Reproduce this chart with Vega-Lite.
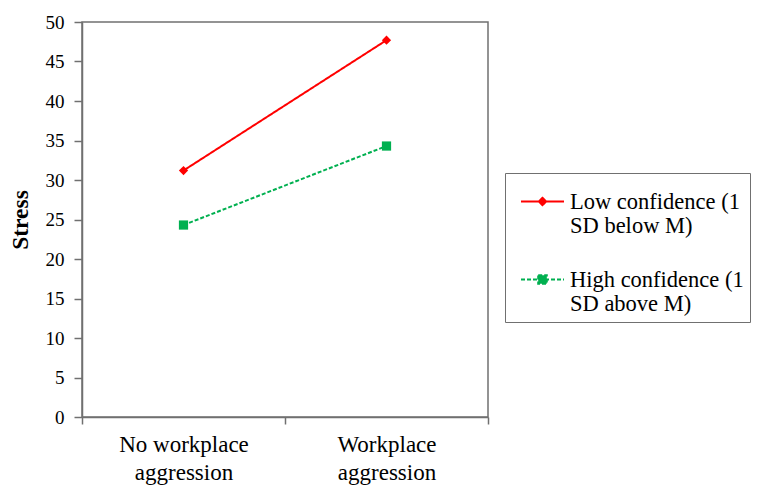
{
  "$schema": "https://vega.github.io/schema/vega-lite/v6.json",
  "autosize": {"type": "none"},
  "padding": {"left": 82, "top": 22, "right": 271, "bottom": 70},
  "width": 406,
  "height": 395,
  "background": "white",
  "config": {
    "font": "Times New Roman",
    "view": {"stroke": "#707070", "strokeWidth": 1.5}
  },
  "data": {
    "values": [
      {"agg": "No workplace aggression", "group": "Low confidence (1 SD below M)", "stress": 31.2},
      {"agg": "Workplace aggression", "group": "Low confidence (1 SD below M)", "stress": 47.7},
      {"agg": "No workplace aggression", "group": "High confidence (1 SD above M)", "stress": 24.3},
      {"agg": "Workplace aggression", "group": "High confidence (1 SD above M)", "stress": 34.3}
    ]
  },
  "encoding": {
    "x": {
      "field": "agg",
      "type": "nominal",
      "sort": ["No workplace aggression", "Workplace aggression"],
      "scale": {"type": "band", "paddingInner": 0, "paddingOuter": 0},
      "axis": {
        "title": null,
        "tickBand": "extent",
        "labelAngle": 0,
        "labelExpr": "datum.value == 'No workplace aggression' ? ['No workplace', 'aggression'] : datum.value == 'Workplace aggression' ? ['Workplace', 'aggression'] : ''",
        "labelFont": "Times New Roman",
        "labelFontSize": 23,
        "labelLineHeight": 28,
        "labelColor": "black",
        "labelPadding": 9,
        "tickSize": 7,
        "tickColor": "#707070",
        "domainColor": "#707070",
        "domainWidth": 1.5,
        "tickWidth": 1.5,
        "grid": false
      }
    },
    "y": {
      "field": "stress",
      "type": "quantitative",
      "scale": {"domain": [0, 50], "nice": false},
      "axis": {
        "title": "Stress",
        "titleFont": "Times New Roman",
        "titleFontSize": 23.5,
        "titleFontWeight": "bold",
        "titleColor": "black",
        "titlePadding": 13,
        "values": [0, 5, 10, 15, 20, 25, 30, 35, 40, 45, 50],
        "labelFont": "Times New Roman",
        "labelFontSize": 19,
        "labelColor": "black",
        "labelPadding": 10,
        "tickSize": 8,
        "tickColor": "#707070",
        "domainColor": "#707070",
        "domainWidth": 1.5,
        "tickWidth": 1.5,
        "grid": false
      }
    }
  },
  "layer": [
    {
      "mark": {"type": "line", "strokeWidth": 2},
      "encoding": {
        "color": {
          "field": "group",
          "type": "nominal",
          "scale": {"domain": ["Low confidence (1 SD below M)", "High confidence (1 SD above M)"], "range": ["#ff0000", "#00b050"]},
          "legend": {
            "title": null,
            "orient": "none",
            "legendX": 423,
            "legendY": 151,
            "padding": 6,
            "symbolOffset": 9,
            "strokeColor": "#707070",
            "labelFont": "Times New Roman",
            "labelFontSize": 22.5,
            "labelLineHeight": 29,
            "labelColor": "black",
            "labelLimit": 400,
            "labelOffset": 5,
            "labelExpr": "datum.value == 'Low confidence (1 SD below M)' ? ['Low confidence (1', 'SD below M)'] : ['High confidence (1', 'SD above M)']",
            "symbolType": "M-1,0H1M0,-0.17L0.17,0L0,0.17L-0.17,0Z",
            "symbolSize": 1849,
            "symbolStrokeWidth": 2,
            "rowPadding": 19,
            "encode": {
              "symbols": {
                "update": {
                  "shape": {"signal": "datum.value == 'Low confidence (1 SD below M)' ? 'M-1,0H1M0,-0.17L0.17,0L0,0.17L-0.17,0Z' : 'M-1,0H1M-0.2,-0.2H0.2V0.2H-0.2Z'"},
                  "fill": {"signal": "datum.value == 'Low confidence (1 SD below M)' ? '#ff0000' : '#00b050'"},
                  "fillOpacity": {"value": 1}
                }
              }
            }
          }
        },
        "strokeDash": {
          "field": "group",
          "type": "nominal",
          "scale": {"domain": ["Low confidence (1 SD below M)", "High confidence (1 SD above M)"], "range": [[1, 0], [4, 2]]},
          "legend": {
            "title": null,
            "orient": "none",
            "legendX": 423,
            "legendY": 151
          }
        }
      }
    },
    {
      "transform": [{"filter": "datum.group == 'Low confidence (1 SD below M)'"}],
      "mark": {"type": "point", "filled": true, "size": 85, "opacity": 1, "shape": "diamond"},
      "encoding": {
        "color": {"field": "group", "type": "nominal"}
      }
    },
    {
      "transform": [{"filter": "datum.group == 'High confidence (1 SD above M)'"}],
      "mark": {"type": "point", "filled": true, "size": 85, "opacity": 1, "shape": "square"},
      "encoding": {
        "color": {"field": "group", "type": "nominal"}
      }
    }
  ]
}
